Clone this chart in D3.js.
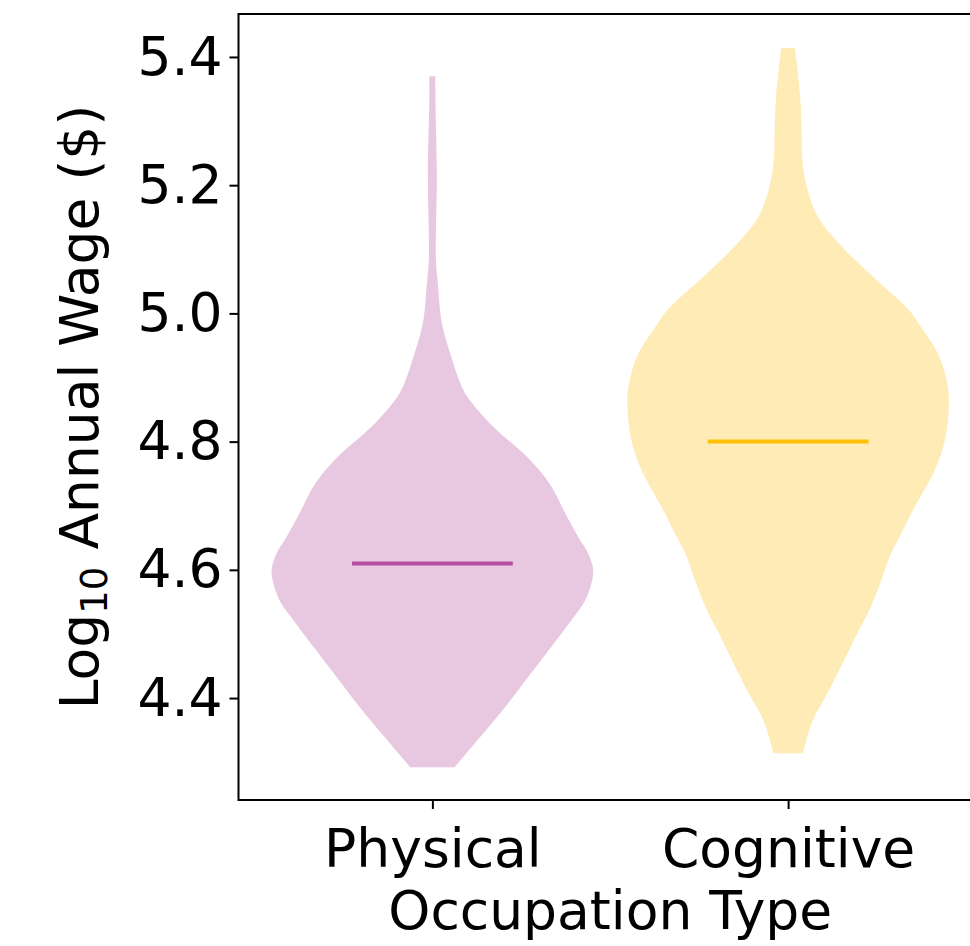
<!DOCTYPE html>
<html>
<head>
<meta charset="utf-8">
<title>Log10 Annual Wage by Occupation Type</title>
<script src="https://cdn.jsdelivr.net/npm/d3@7"></script>
<style>
  body { margin: 0; background: #fff; }
  svg { display: block; font-family: "DejaVu Sans", sans-serif; }
</style>
</head>
<body>
<script>
// categories and their positions on the x axis
var categories = ["Physical", "Cognitive"];
var positions = [1, 2];
var medians = [4.61, 4.80];

// violin outlines: wage value and relative width (1 = widest)
var physicalValues = [4.292, 4.340, 4.386, 4.436, 4.486, 4.520, 4.550, 4.575, 4.600, 4.625, 4.650, 4.682, 4.735, 4.776, 4.823, 4.870, 4.891, 4.932, 4.985, 5.047, 5.083, 5.125, 5.213, 5.333, 5.370];
var physicalWidths = [0.137, 0.300, 0.453, 0.605, 0.758, 0.860, 0.945, 0.985, 1.000, 0.970, 0.910, 0.839, 0.727, 0.590, 0.379, 0.217, 0.174, 0.118, 0.059, 0.034, 0.022, 0.022, 0.028, 0.019, 0.019];

var cognitiveValues = [4.314, 4.340, 4.366, 4.412, 4.506, 4.537, 4.584, 4.620, 4.650, 4.693, 4.756, 4.802, 4.860, 4.890, 4.923, 4.943, 4.974, 5.005, 5.057, 5.104, 5.150, 5.193, 5.235, 5.286, 5.338, 5.414];
var cognitiveWidths = [0.093, 0.120, 0.155, 0.255, 0.441, 0.505, 0.580, 0.630, 0.690, 0.776, 0.913, 0.975, 1.000, 0.990, 0.955, 0.920, 0.839, 0.752, 0.528, 0.335, 0.186, 0.121, 0.090, 0.084, 0.075, 0.043];

var yTicks = [4.4, 4.6, 4.8, 5.0, 5.2, 5.4];

var fills = ["#e8c8e0", "#feebb5"];
var lineColors = ["#b44e9f", "#ffc107"];

// size of the page and the plot box
var width = 970, height = 946;
var plot = {left: 238.5, top: 14, right: 982, bottom: 800};
var halfWidth = 0.452;   // widest half of a violin, in x units
var fontSize = 53.5;

var x = d3.scaleLinear().domain([0.455, 2.545]).range([plot.left, plot.right]);
var y = d3.scaleLinear().domain([4.241, 5.467]).range([plot.bottom, plot.top]);

var svg = d3.select("body").append("svg")
  .attr("width", width)
  .attr("height", height);

var violins = [
  {pos: positions[0], values: physicalValues, widths: physicalWidths},
  {pos: positions[1], values: cognitiveValues, widths: cognitiveWidths}
];

// violin bodies
violins.forEach(function(v, i) {
  var pts = v.values.map(function(val, j) { return {v: val, w: v.widths[j]}; });
  var area = d3.area()
    .y(function(d) { return y(d.v); })
    .x0(function(d) { return x(v.pos - d.w * halfWidth); })
    .x1(function(d) { return x(v.pos + d.w * halfWidth); })
    .curve(d3.curveCatmullRom.alpha(0.5));
  svg.append("path")
    .attr("d", area(pts))
    .attr("fill", fills[i]);
});

// median lines
svg.selectAll("line.median")
  .data(medians)
  .enter()
  .append("line")
  .attr("class", "median")
  .attr("x1", function(d, i) { return x(positions[i] - halfWidth / 2); })
  .attr("x2", function(d, i) { return x(positions[i] + halfWidth / 2); })
  .attr("y1", function(d) { return y(d); })
  .attr("y2", function(d) { return y(d); })
  .attr("stroke", function(d, i) { return lineColors[i]; })
  .attr("stroke-width", 4);

// frame (right side falls outside the window)
svg.append("rect")
  .attr("x", plot.left)
  .attr("y", plot.top)
  .attr("width", plot.right - plot.left)
  .attr("height", plot.bottom - plot.top)
  .attr("fill", "none")
  .attr("stroke", "#000")
  .attr("stroke-width", 2);

// y axis
var yAxis = d3.axisLeft(y)
  .tickValues(yTicks)
  .tickFormat(d3.format(".1f"))
  .tickSize(9)
  .tickPadding(7);
var gy = svg.append("g")
  .attr("transform", "translate(" + plot.left + ",0)")
  .call(yAxis);
gy.select(".domain").remove();
gy.selectAll(".tick line").attr("stroke-width", 2);
gy.selectAll(".tick text").attr("font-size", fontSize).attr("font-family", "DejaVu Sans").attr("fill", "#000");

// x axis
var xAxis = d3.axisBottom(x)
  .tickValues(positions)
  .tickFormat(function(d, i) { return categories[i]; })
  .tickSize(9)
  .tickPadding(20);
var gx = svg.append("g")
  .attr("transform", "translate(0," + plot.bottom + ")")
  .call(xAxis);
gx.select(".domain").remove();
gx.selectAll(".tick line").attr("stroke-width", 2);
gx.selectAll(".tick text").attr("font-size", fontSize).attr("font-family", "DejaVu Sans").attr("fill", "#000");

// axis labels
svg.append("text")
  .attr("x", (plot.left + plot.right) / 2)
  .attr("y", 929)
  .attr("text-anchor", "middle")
  .attr("font-size", fontSize)
  .text("Occupation Type");

var ylab = svg.append("text")
  .attr("transform", "translate(98," + ((plot.top + plot.bottom) / 2) + ") rotate(-90)")
  .attr("text-anchor", "middle")
  .attr("font-size", fontSize);
ylab.append("tspan").text("Log");
ylab.append("tspan").attr("font-size", 37).attr("dy", 9).text("10");
ylab.append("tspan").attr("dy", -9).text(" Annual Wage ($)");
</script>
</body>
</html>
